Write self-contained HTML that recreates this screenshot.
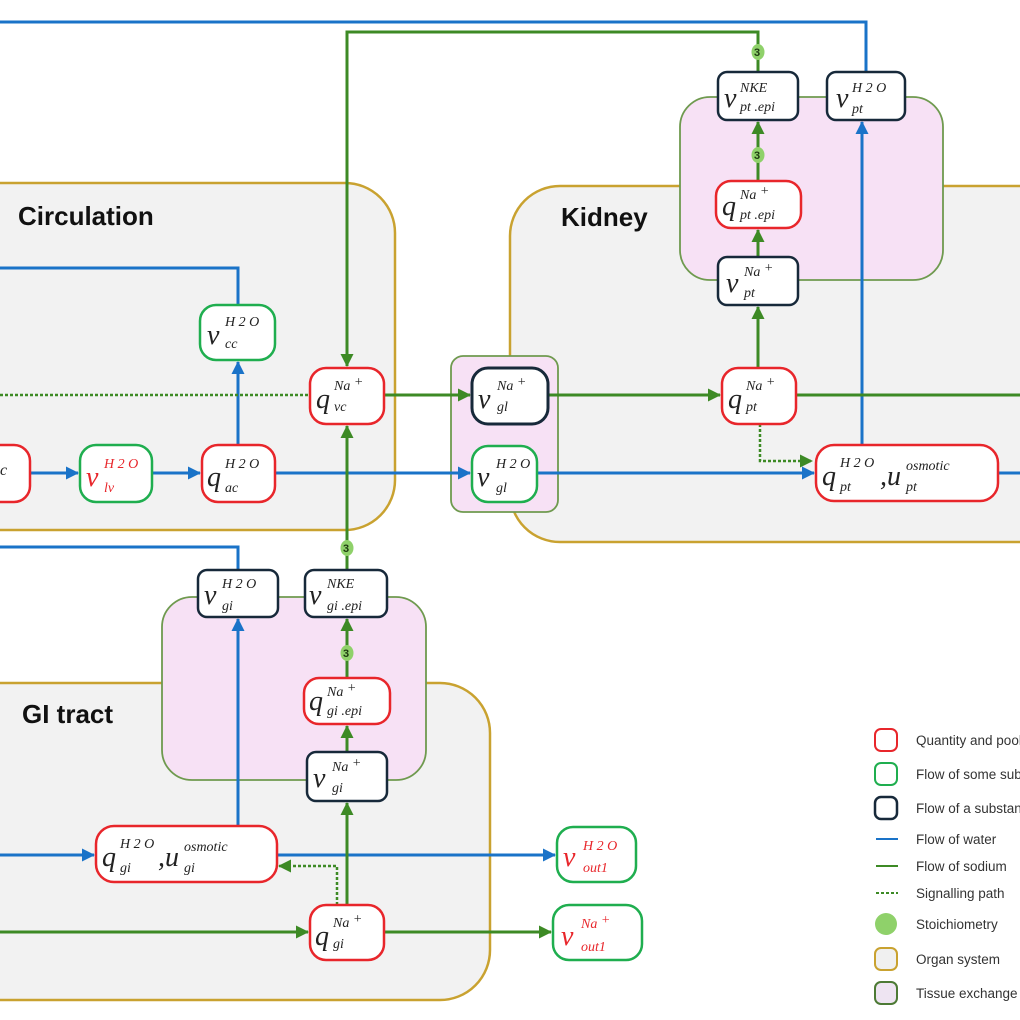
<!DOCTYPE html>
<html><head><meta charset="utf-8"><style>
html,body{margin:0;padding:0;background:#fff;}
svg{display:block}
.m{font-family:"Liberation Serif",serif;font-style:italic;fill:#222}
.r{fill:#e8262b}
.org{font-family:"Liberation Sans",sans-serif;font-weight:bold;font-size:26px;fill:#111}
.lg{font-family:"Liberation Sans",sans-serif;font-size:13.5px;fill:#333}
.st{font-family:"Liberation Sans",sans-serif;font-weight:bold;font-size:11px;fill:#1d3a10}
</style></head><body>
<svg width="1020" height="1020" viewBox="0 0 1020 1020" xmlns="http://www.w3.org/2000/svg">
<defs>
<marker id="ag" markerWidth="14" markerHeight="14" refX="12" refY="6.5" orient="auto" markerUnits="userSpaceOnUse"><path d="M0,0 L13,6.5 L0,13 z" fill="#3d8a25"/></marker>
<marker id="ab2" markerWidth="14" markerHeight="14" refX="12" refY="6.5" orient="auto" markerUnits="userSpaceOnUse"><path d="M0,0 L13,6.5 L0,13 z" fill="#1a73c8"/></marker>
</defs>

<rect x="-60" y="183" width="455" height="347" rx="50" fill="#f2f2f2" stroke="#c9a230" stroke-width="2.5"/>
<rect x="510" y="186" width="560" height="356" rx="50" fill="#f2f2f2" stroke="#c9a230" stroke-width="2.5"/>
<rect x="-60" y="683" width="550" height="317" rx="50" fill="#f2f2f2" stroke="#c9a230" stroke-width="2.5"/>

<rect x="680" y="97" width="263" height="183" rx="30" fill="#f7e1f5" stroke="#6f9a4f" stroke-width="1.8"/>
<rect x="451" y="356" width="107" height="156" rx="12" fill="#f7e1f5" stroke="#6f9a4f" stroke-width="1.8"/>
<rect x="162" y="597" width="264" height="183" rx="30" fill="#f7e1f5" stroke="#6f9a4f" stroke-width="1.8"/>

<text class="org" x="18" y="225">Circulation</text>
<text class="org" x="561" y="226">Kidney</text>
<text class="org" x="22" y="723">GI tract</text>

<g stroke="#1a73c8" stroke-width="3" fill="none">
<path d="M0,22 H866 V72"/>
<path d="M862,445 V122" marker-end="url(#ab2)"/>
<path d="M0,268 H238 V305"/>
<path d="M238,445 V362" marker-end="url(#ab2)"/>
<path d="M30,473 H78" marker-end="url(#ab2)"/>
<path d="M152,473 H200" marker-end="url(#ab2)"/>
<path d="M275,473 H470" marker-end="url(#ab2)"/>
<path d="M537,473 H814" marker-end="url(#ab2)"/>
<path d="M998,473 H1020"/>
<path d="M0,547 H238 V570"/>
<path d="M238,826 V619" marker-end="url(#ab2)"/>
<path d="M0,855 H94" marker-end="url(#ab2)"/>
<path d="M277,855 H555" marker-end="url(#ab2)"/>
</g>

<g stroke="#3d8a25" stroke-width="3" fill="none">
<path d="M347,366 V32 H758 V72"/>
<path d="M347,40 V366" marker-end="url(#ag)"/>
<path d="M384,395 H470" marker-end="url(#ag)"/>
<path d="M548,395 H720" marker-end="url(#ag)"/>
<path d="M796,395 H1020"/>
<path d="M758,368 V307" marker-end="url(#ag)"/>
<path d="M758,257 V230" marker-end="url(#ag)"/>
<path d="M758,181 V122" marker-end="url(#ag)"/>
<path d="M347,570 V426" marker-end="url(#ag)"/>
<path d="M347,752 V726" marker-end="url(#ag)"/>
<path d="M347,678 V619" marker-end="url(#ag)"/>
<path d="M347,905 V803" marker-end="url(#ag)"/>
<path d="M0,932 H308" marker-end="url(#ag)"/>
<path d="M384,932 H551" marker-end="url(#ag)"/>
</g>
<g stroke="#3d8a25" stroke-width="2.5" fill="none" stroke-dasharray="3,2">
<path d="M0,395 H310"/>
<path d="M760,424 V461 H812" marker-end="url(#ag)"/>
<path d="M337,905 V866 H279" marker-end="url(#ag)"/>
</g>

<g>
<ellipse cx="758" cy="52" rx="6.5" ry="8" fill="#8fd16a"/><text class="st" x="754" y="56">3</text>
<ellipse cx="758" cy="155" rx="6.5" ry="8" fill="#8fd16a"/><text class="st" x="754" y="159">3</text>
<ellipse cx="347" cy="548" rx="6.5" ry="8" fill="#8fd16a"/><text class="st" x="343" y="552">3</text>
<ellipse cx="347" cy="653" rx="6.5" ry="8" fill="#8fd16a"/><text class="st" x="343" y="657">3</text>
</g>

<g fill="#fff" stroke-width="2.5">
<rect x="718" y="72" width="80" height="48" rx="9" stroke="#17293a"/>
<rect x="827" y="72" width="78" height="48" rx="9" stroke="#17293a"/>
<rect x="716" y="181" width="85" height="47" rx="15" stroke="#e8262b"/>
<rect x="718" y="257" width="80" height="48" rx="9" stroke="#17293a"/>
<rect x="200" y="305" width="75" height="55" rx="16" stroke="#1fae4f"/>
<rect x="310" y="368" width="74" height="56" rx="16" stroke="#e8262b"/>
<rect x="472" y="368" width="76" height="56" rx="16" stroke="#17293a" stroke-width="3"/>
<rect x="722" y="368" width="74" height="56" rx="16" stroke="#e8262b"/>
<rect x="-30" y="445" width="60" height="57" rx="16" stroke="#e8262b"/>
<rect x="80" y="445" width="72" height="57" rx="16" stroke="#1fae4f"/>
<rect x="202" y="445" width="73" height="57" rx="16" stroke="#e8262b"/>
<rect x="472" y="446" width="65" height="56" rx="16" stroke="#1fae4f"/>
<rect x="816" y="445" width="182" height="56" rx="18" stroke="#e8262b"/>
<rect x="198" y="570" width="80" height="47" rx="9" stroke="#17293a"/>
<rect x="305" y="570" width="82" height="47" rx="9" stroke="#17293a"/>
<rect x="304" y="678" width="86" height="46" rx="15" stroke="#e8262b"/>
<rect x="307" y="752" width="80" height="49" rx="9" stroke="#17293a"/>
<rect x="96" y="826" width="181" height="56" rx="18" stroke="#e8262b"/>
<rect x="310" y="905" width="74" height="55" rx="16" stroke="#e8262b"/>
<rect x="557" y="827" width="79" height="55" rx="16" stroke="#1fae4f"/>
<rect x="553" y="905" width="89" height="55" rx="16" stroke="#1fae4f"/>
</g>

<g class="m">
<text x="724" y="107" font-size="28">v</text><text x="740" y="92" font-size="14">NKE</text><text x="740" y="111" font-size="14">pt .epi</text>
<text x="836" y="107" font-size="28">v</text><text x="852" y="92" font-size="14">H 2 O</text><text x="852" y="113" font-size="14">pt</text>
<text x="722" y="215" font-size="28">q</text><text x="740" y="199" font-size="14">Na <tspan dy="-4">+</tspan></text><text x="740" y="219" font-size="14">pt .epi</text>
<text x="726" y="292" font-size="28">v</text><text x="744" y="276" font-size="14">Na <tspan dy="-4">+</tspan></text><text x="744" y="297" font-size="14">pt</text>
<text x="207" y="344" font-size="28">v</text><text x="225" y="326" font-size="14">H 2 O</text><text x="225" y="348" font-size="14">cc</text>
<text x="316" y="408" font-size="28">q</text><text x="334" y="390" font-size="14">Na <tspan dy="-4">+</tspan></text><text x="334" y="411" font-size="14">vc</text>
<text x="478" y="408" font-size="28">v</text><text x="497" y="390" font-size="14">Na <tspan dy="-4">+</tspan></text><text x="497" y="411" font-size="14">gl</text>
<text x="728" y="408" font-size="28">q</text><text x="746" y="390" font-size="14">Na <tspan dy="-4">+</tspan></text><text x="746" y="411" font-size="14">pt</text>
<text x="0" y="475" font-size="16">c</text>
<text x="86" y="486" font-size="28" class="m r">v</text><text x="104" y="468" font-size="14" class="m r">H 2 O</text><text x="104" y="492" font-size="14" class="m r">lv</text>
<text x="207" y="486" font-size="28">q</text><text x="225" y="468" font-size="14">H 2 O</text><text x="225" y="492" font-size="14">ac</text>
<text x="477" y="486" font-size="28">v</text><text x="496" y="468" font-size="14">H 2 O</text><text x="496" y="492" font-size="14">gl</text>
<text x="822" y="485" font-size="28">q</text><text x="840" y="467" font-size="14">H 2 O</text><text x="840" y="491" font-size="14">pt</text><text x="880" y="485" font-size="28">,u</text><text x="906" y="470" font-size="14">osmotic</text><text x="906" y="491" font-size="14">pt</text>
<text x="204" y="604" font-size="28">v</text><text x="222" y="588" font-size="14">H 2 O</text><text x="222" y="610" font-size="14">gi</text>
<text x="309" y="604" font-size="28">v</text><text x="327" y="588" font-size="14">NKE</text><text x="327" y="610" font-size="14">gi .epi</text>
<text x="309" y="710" font-size="28">q</text><text x="327" y="696" font-size="14">Na <tspan dy="-4">+</tspan></text><text x="327" y="715" font-size="14">gi .epi</text>
<text x="313" y="787" font-size="28">v</text><text x="332" y="771" font-size="14">Na <tspan dy="-4">+</tspan></text><text x="332" y="792" font-size="14">gi</text>
<text x="102" y="866" font-size="28">q</text><text x="120" y="848" font-size="14">H 2 O</text><text x="120" y="872" font-size="14">gi</text><text x="158" y="866" font-size="28">,u</text><text x="184" y="851" font-size="14">osmotic</text><text x="184" y="872" font-size="14">gi</text>
<text x="315" y="945" font-size="28">q</text><text x="333" y="927" font-size="14">Na <tspan dy="-4">+</tspan></text><text x="333" y="948" font-size="14">gi</text>
<text x="563" y="866" font-size="28" class="m r">v</text><text x="583" y="850" font-size="14" class="m r">H 2 O</text><text x="583" y="872" font-size="14" class="m r">out1</text>
<text x="561" y="945" font-size="28" class="m r">v</text><text x="581" y="928" font-size="14" class="m r">Na <tspan dy="-4">+</tspan></text><text x="581" y="951" font-size="14" class="m r">out1</text>
</g>

<g stroke-width="2">
<rect x="875" y="729" width="22" height="22" rx="6" fill="#fff" stroke="#e8262b"/>
<rect x="875" y="763" width="22" height="22" rx="6" fill="#fff" stroke="#1fae4f"/>
<rect x="875" y="797" width="22" height="22" rx="6" fill="#fff" stroke="#17293a" stroke-width="2.5"/>
<line x1="876" y1="839" x2="898" y2="839" stroke="#1a73c8"/>
<line x1="876" y1="866" x2="898" y2="866" stroke="#3d8a25"/>
<line x1="876" y1="893" x2="898" y2="893" stroke="#3d8a25" stroke-dasharray="3,2"/>
<circle cx="886" cy="924" r="11" fill="#8fd16a" stroke="none"/>
<rect x="875" y="948" width="22" height="22" rx="6" fill="#f0f0f0" stroke="#c9a230"/>
<rect x="875" y="982" width="22" height="22" rx="6" fill="#eee4f2" stroke="#4d7a35"/>
</g>
<g class="lg">
<text x="916" y="745">Quantity and pool</text>
<text x="916" y="779">Flow of some substance</text>
<text x="916" y="813">Flow of a substance</text>
<text x="916" y="844">Flow of water</text>
<text x="916" y="871">Flow of sodium</text>
<text x="916" y="898">Signalling path</text>
<text x="916" y="929">Stoichiometry</text>
<text x="916" y="964">Organ system</text>
<text x="916" y="998">Tissue exchange</text>
</g>
</svg>
</body></html>
